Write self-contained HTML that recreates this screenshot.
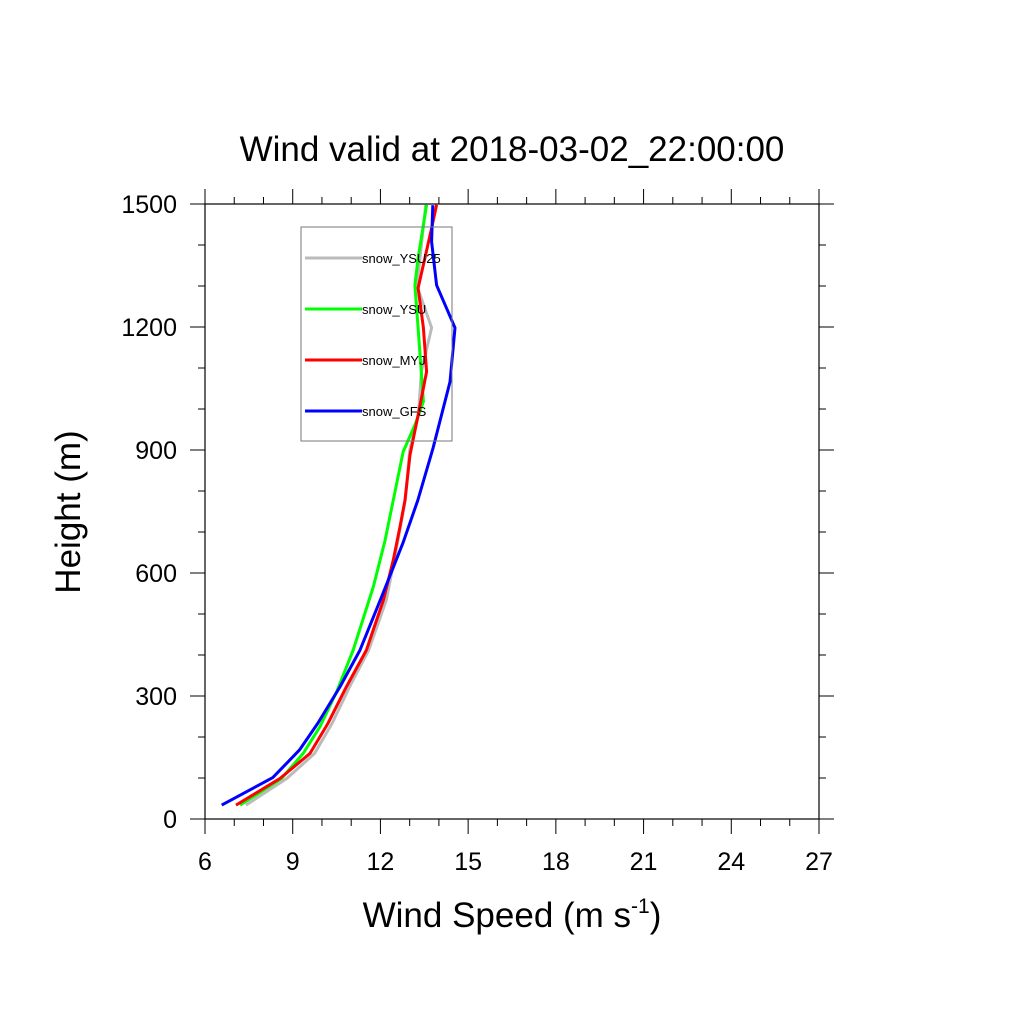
<!DOCTYPE html>
<html><head><meta charset="utf-8"><style>
html,body{margin:0;padding:0;background:#fff;}
svg{display:block;font-family:"Liberation Sans",sans-serif;}
</style></head><body>
<svg id="chart" width="1024" height="1024" viewBox="0 0 1024 1024">
<text x="512" y="161" font-size="35" text-anchor="middle">Wind valid at 2018-03-02_22:00:00</text>
<g id="axes"></g>
<g id="series"></g>
<rect x="301" y="227" width="151" height="214" fill="none" stroke="#777" stroke-width="1"/>
<g id="legend"></g>
<text x="80" y="512" font-size="35" text-anchor="middle" transform="rotate(-90 80 512)">Height (m)</text>
<text x="512" y="927" font-size="35" text-anchor="middle">Wind Speed (m s<tspan font-size="21" dy="-14">-1</tspan><tspan dy="14">)</tspan></text>
</svg>
<script>
const xTicks = [6, 9, 12, 15, 18, 21, 24, 27];
const yTicks = [0, 300, 600, 900, 1200, 1500];
const seriesNames = ["snow_YSU25", "snow_YSU", "snow_MYJ", "snow_GFS"];
const seriesColors = ["#bbbbbb", "#00ff00", "#ff0000", "#0000ff"];
const heightsGFS = [34, 101, 168, 234, 323, 412, 551, 673, 778, 905, 1066, 1198, 1302, 1408, 1497];
const speedGFS = [6.57, 8.32, 9.23, 9.86, 10.62, 11.30, 12.09, 12.77, 13.28, 13.80, 14.38, 14.55, 13.92, 13.75, 13.79];
const heightsYSU = [34, 99, 160, 225, 310, 412, 567, 680, 778, 896, 961, 1018, 1198, 1302, 1368, 1498];
const speedYSU = [7.20, 8.62, 9.36, 9.93, 10.50, 11.07, 11.76, 12.16, 12.44, 12.78, 13.18, 13.47, 13.29, 13.18, 13.29, 13.58];
const heightsMYJ = [34, 99, 160, 234, 323, 412, 534, 632, 713, 778, 888, 985, 1091, 1198, 1295, 1368, 1441, 1498];
const speedMYJ = [7.06, 8.57, 9.59, 10.21, 10.84, 11.52, 12.10, 12.44, 12.67, 12.84, 13.01, 13.29, 13.58, 13.47, 13.29, 13.52, 13.75, 13.92];
const heightsYSU25 = [34, 99, 160, 234, 323, 412, 534, 660, 778, 900, 985, 1091, 1198, 1300, 1400, 1498];
const speedYSU25 = [7.4, 8.8, 9.75, 10.35, 10.95, 11.6, 12.2, 12.55, 12.85, 13.0, 13.3, 13.4, 13.75, 13.25, 13.4, 13.55];

const X0=205,X1=819,Y0=819,Y1=204;
const xs=v=>X0+(v-6)/(27-6)*(X1-X0);
const ys=h=>Y0-h/1500*(Y0-Y1);
const NS="http://www.w3.org/2000/svg";
function mk(t,a,p){const e=document.createElementNS(NS,t);for(const k in a)e.setAttribute(k,a[k]);p.appendChild(e);return e;}
const ax=document.getElementById('axes');
const frame=mk('rect',{x:X0,y:Y1,width:X1-X0,height:Y0-Y1,fill:'none',stroke:'#000','stroke-width':1.2},ax);


for(let v=6;v<=27;v++){
  const major=(v-6)%3===0, L=major?15:7, x=xs(v);
  const t1=mk('line',{x1:x,x2:x,y1:Y0,y2:Y0+L,stroke:'#000','stroke-width':1},ax);
  
  
  const t2=mk('line',{x1:x,x2:x,y1:Y1,y2:Y1-L,stroke:'#000','stroke-width':1},ax);
  
  
}
xTicks.forEach(v=>{const t=mk('text',{x:xs(v),y:Y0+51,'font-size':25,'text-anchor':'middle'},ax);t.textContent=v;
  
  });
for(let h=0;h<=1500;h+=100){
  const major=h%300===0, L=major?15:7, y=ys(h);
  const t1=mk('line',{x1:X0,x2:X0-L,y1:y,y2:y,stroke:'#000','stroke-width':1},ax);
  
  
  const t2=mk('line',{x1:X1,x2:X1+L,y1:y,y2:y,stroke:'#000','stroke-width':1},ax);
  
  
}
yTicks.forEach(h=>{const t=mk('text',{x:X0-28,y:ys(h)+9,'font-size':25,'text-anchor':'end'},ax);t.textContent=h;
  
  });
const sg=document.getElementById('series');
const data=[[speedYSU25,heightsYSU25],[speedYSU,heightsYSU],[speedMYJ,heightsMYJ],[speedGFS,heightsGFS]];
data.forEach((d,i)=>{
  const pts=d[0].map((v,j)=>xs(v).toFixed(1)+','+ys(d[1][j]).toFixed(1)).join(' ');
  const pl=mk('polyline',{points:pts,fill:'none',stroke:seriesColors[i],'stroke-width':3,'stroke-linejoin':'round'},sg);
  
  
});
const lg=document.getElementById('legend');
seriesNames.forEach((n,i)=>{
  const y=258+i*51;
  const l=mk('line',{x1:305,x2:362,y1:y,y2:y,stroke:seriesColors[i],'stroke-width':3},lg);
  
  
  const t=mk('text',{x:362,y:y+5,'font-size':13},lg);t.textContent=n;
  
  
});
</script>
</body></html>
